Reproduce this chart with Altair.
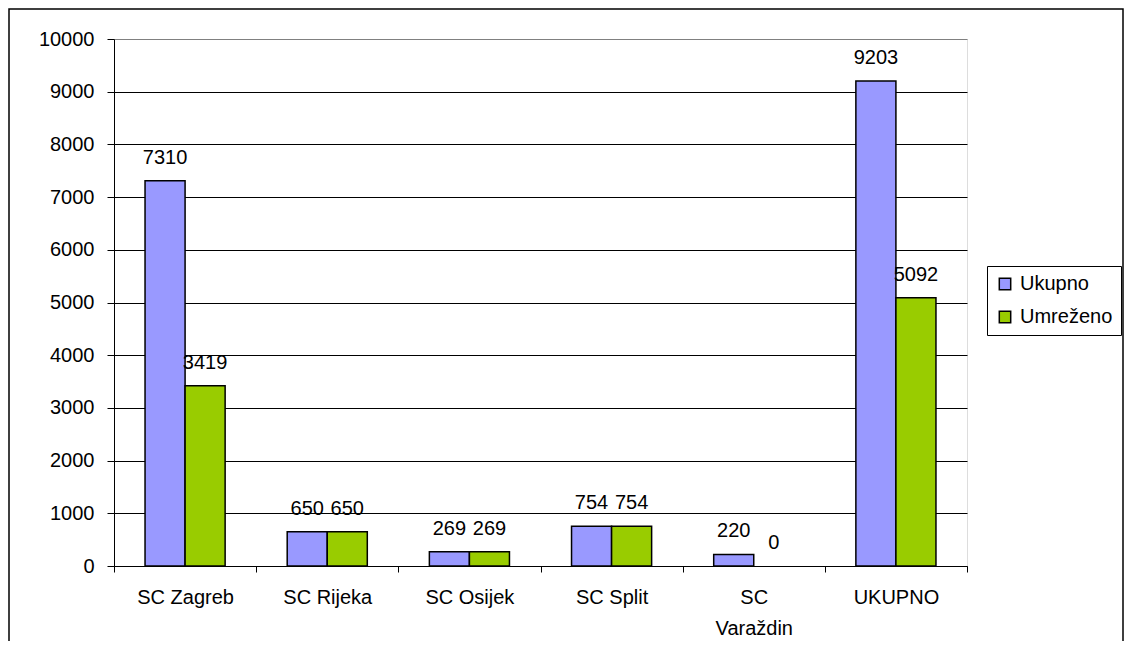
import altair as alt
import pandas as pd

categories = ["SC Zagreb", "SC Rijeka", "SC Osijek", "SC Split", "SC Varaždin", "UKUPNO"]
series = ["Ukupno", "Umreženo"]
ukupno = [7310, 650, 269, 754, 220, 9203]
umrezeno = [3419, 650, 269, 754, 0, 5092]
y_ticks = [0, 1000, 2000, 3000, 4000, 5000, 6000, 7000, 8000, 9000, 10000]
colors = ["#9999FF", "#99CC00"]

rows = []
for i, c in enumerate(categories):
    rows.append({"kat": c, "serija": series[0], "vrijednost": ukupno[i]})
    rows.append({"kat": c, "serija": series[1], "vrijednost": umrezeno[i]})
df = pd.DataFrame(rows)

FONT = "Liberation Sans"
FS = 20
W, H = 853, 527

x_enc = alt.X(
    "kat:N",
    sort=categories,
    scale=alt.Scale(paddingInner=0, paddingOuter=0),
    axis=alt.Axis(
        title=None,
        labelAngle=0,
        tickBand="extent",
        tickSize=6,
        tickColor="black",
        domainColor="black",
        labelFontSize=FS,
        labelFont=FONT,
        labelColor="black",
        labelPadding=15,
        labelLineHeight=31,
        labelExpr="datum.value == 'SC Varaždin' ? ['SC', 'Varaždin'] : datum.value",
    ),
)
y_enc = alt.Y(
    "vrijednost:Q",
    scale=alt.Scale(domain=[0, 10000], nice=False),
    axis=alt.Axis(
        title=None,
        values=y_ticks,
        format="d",
        grid=True,
        gridColor=alt.condition("datum.value == 10000", alt.value("#808080"), alt.value("black")),
        gridWidth=1,
        tickSize=7,
        tickColor="black",
        domainColor="black",
        labelFontSize=FS,
        labelFont=FONT,
        labelColor="black",
        labelPadding=13,
    ),
)
xoff = alt.XOffset("serija:N", sort=series, scale=alt.Scale(paddingInner=0, paddingOuter=0.775))

bars = alt.Chart(df).mark_bar(stroke="black", strokeWidth=1.5).encode(
    x=x_enc,
    y=y_enc,
    xOffset=xoff,
    strokeOpacity=alt.condition("datum.vrijednost == 0", alt.value(0), alt.value(1)),
    color=alt.Color(
        "serija:N",
        sort=series,
        scale=alt.Scale(domain=series, range=colors),
        legend=alt.Legend(
            title=None,
            orient="none",
            legendX=873,
            legendY=227,
            strokeColor="black",
            fillColor="white",
            padding=8,
            labelFontSize=FS,
            labelFont=FONT,
            labelColor="black",
            symbolType="square",
            symbolSize=130,
            symbolStrokeColor="black",
            symbolStrokeWidth=1.5,
            rowPadding=13,
            labelOffset=5,
        ),
    ),
)

labels = alt.Chart(df).mark_text(
    fontSize=FS, font=FONT, color="black", dy=-23, baseline="middle"
).encode(
    x=alt.X("kat:N", sort=categories),
    y="vrijednost:Q",
    xOffset=alt.XOffset("serija:N", sort=series),
    text="vrijednost:Q",
)

border = alt.Chart(pd.DataFrame({"a": [0]})).mark_rect(
    fill=None, stroke="black", strokeWidth=1.5
).encode(
    x=alt.value(-105),
    x2=alt.value(W + 156),
    y=alt.value(-30),
    y2=alt.value(H + 200),
)

chart = alt.layer(border, bars, labels).properties(
    width=W,
    height=H,
    padding={"left": 106, "top": 31, "right": 158, "bottom": 75},
    autosize=alt.AutoSizeParams(type="none"),
).configure_view(
    fill="#C0C0C0", stroke="#808080", strokeWidth=1.5
).configure(background="white")

chart.save("out.html", embed_options={"renderer": "svg", "actions": False})
